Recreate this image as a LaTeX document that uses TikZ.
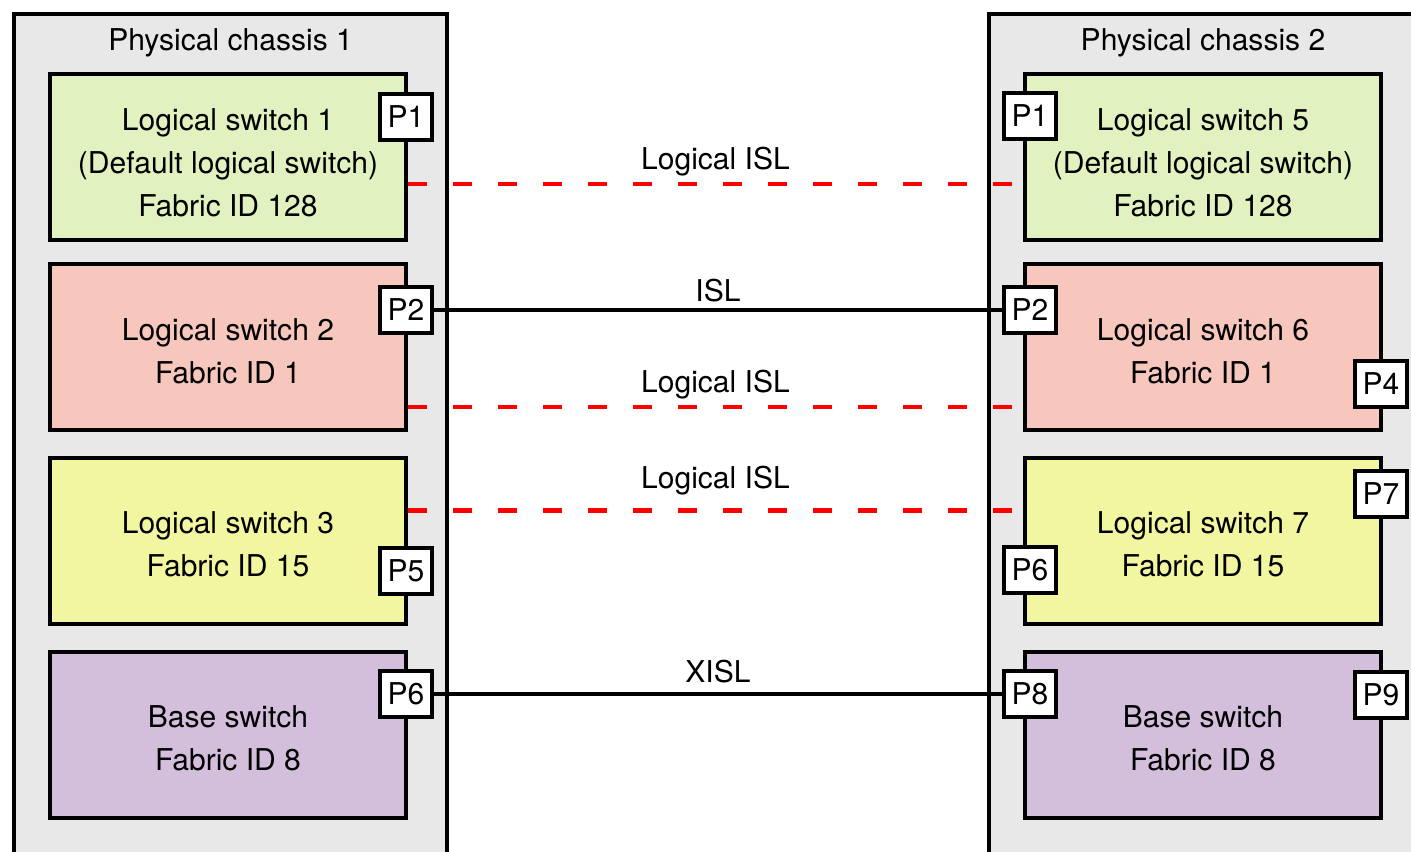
\documentclass[tikz,border=0pt]{standalone}
\usepackage{fontspec}
\setmainfont{TeX Gyre Heros}
\definecolor{chgray}{HTML}{E8E8E8}
\definecolor{swgreen}{HTML}{E1F2C0}
\definecolor{swpink}{HTML}{F7C6BD}
\definecolor{swyellow}{HTML}{F3F6A0}
\definecolor{swlilac}{HTML}{D3BEDC}
\tikzset{
  chassis/.style= {draw, line width=2.4pt, fill=chgray, anchor=north west, minimum height=18cm},
  title/.style= {inner sep=0pt},
  sw/.style= {draw, line width=2.6pt, minimum width=7.12cm, minimum height=3.32cm},
  swtext/.style= {align=center, inner sep=0pt},
  port/.style= {draw, line width=2.6pt, fill=white, minimum width=1.04cm, minimum height=0.92cm, inner sep=0pt},
  isl/.style= {line width=2.2pt},
  lisl/.style= {line width=2.4pt, red, dash pattern=on 0.38cm off 0.52cm},
}

\begin{document}
\begin{tikzpicture}[x=0.02cm, y=-0.02cm, every node/.style={font=\fontsize{17.1}{24.4}\selectfont}]
  \useasboundingbox (0,0) rectangle (1411,852);
  \clip (0,0) rectangle (1411,852);

  % chassis
  \node [chassis, minimum width=8.66cm] (ch1) at (12,12) {};
  \node [chassis, minimum width=10cm] (ch2) at (987,12) {};
  \node [title] (t1) at ([yshift=-0.62cm]ch1.north) {Physical chassis 1};
  \node [title] (t2) at (1203,43) {Physical chassis 2};

  % logical switches
  \node [sw, fill=swgreen] (ls1) at (228,157) {};
  \node [sw, fill=swpink] (ls2) at (228,347) {};
  \node [sw, fill=swyellow] (ls3) at (228,541) {};
  \node [sw, fill=swlilac] (bs1) at (228,735) {};
  \node [sw, fill=swgreen] (ls5) at (1203,157) {};
  \node [sw, fill=swpink] (ls6) at (1203,347) {};
  \node [sw, fill=swyellow] (ls7) at (1203,541) {};
  \node [sw, fill=swlilac] (bs2) at (1203,735) {};

  \node [swtext] (ls1t) at ([yshift=-0.11cm]ls1.center) {Logical switch 1\\(Default logical switch)\\Fabric ID 128};
  \node [swtext] (ls2t) at ([yshift=-0.08cm]ls2.center) {Logical switch 2\\Fabric ID 1};
  \node [swtext] (ls3t) at ([yshift=-0.06cm]ls3.center) {Logical switch 3\\Fabric ID 15};
  \node [swtext] (bs1t) at ([yshift=-0.06cm]bs1.center) {Base switch\\Fabric ID 8};
  \node [swtext] (ls5t) at ([yshift=-0.11cm]ls5.center) {Logical switch 5\\(Default logical switch)\\Fabric ID 128};
  \node [swtext] (ls6t) at ([yshift=-0.08cm]ls6.center) {Logical switch 6\\Fabric ID 1};
  \node [swtext] (ls7t) at ([yshift=-0.06cm]ls7.center) {Logical switch 7\\Fabric ID 15};
  \node [swtext] (bs2t) at ([yshift=-0.06cm]bs2.center) {Base switch\\Fabric ID 8};

  % logical ISLs
  \draw [lisl] ([yshift=-0.54cm]ls1.east) -- ([yshift=-0.54cm]ls5.west)
    node [midway, above, black] {Logical ISL};
  \draw [lisl] ([yshift=-1.2cm]ls2.east) -- ([yshift=-1.2cm]ls6.west)
    node [midway, above, black] {Logical ISL};
  \draw [lisl] ([yshift=0.61cm]ls3.east) -- ([yshift=0.61cm]ls7.west)
    node [midway, above=4pt, black] {Logical ISL};

  % ports
  \node [port] (p1l) at (406,117) {P1};
  \node [port] (p2l) at (406,310) {P2};
  \node [port] (p5l) at (406,571) {P5};
  \node [port] (p6l) at (406,694) {P6};
  \node [port] (p1r) at (1030,116) {P1};
  \node [port] (p2r) at (1030,310) {P2};
  \node [port] (p4r) at (1381,384) {P4};
  \node [port] (p7r) at (1381,494) {P7};
  \node [port] (p6r) at (1030,570) {P6};
  \node [port] (p8r) at (1030,694) {P8};
  \node [port] (p9r) at (1381,695) {P9};

  % ISL and XISL
  \draw [isl] (p2l) -- (p2r) node [midway, above] {ISL};
  \draw [isl] (p6l) -- (p8r) node [midway, above=2pt] {XISL};
\end{tikzpicture}
\end{document}
